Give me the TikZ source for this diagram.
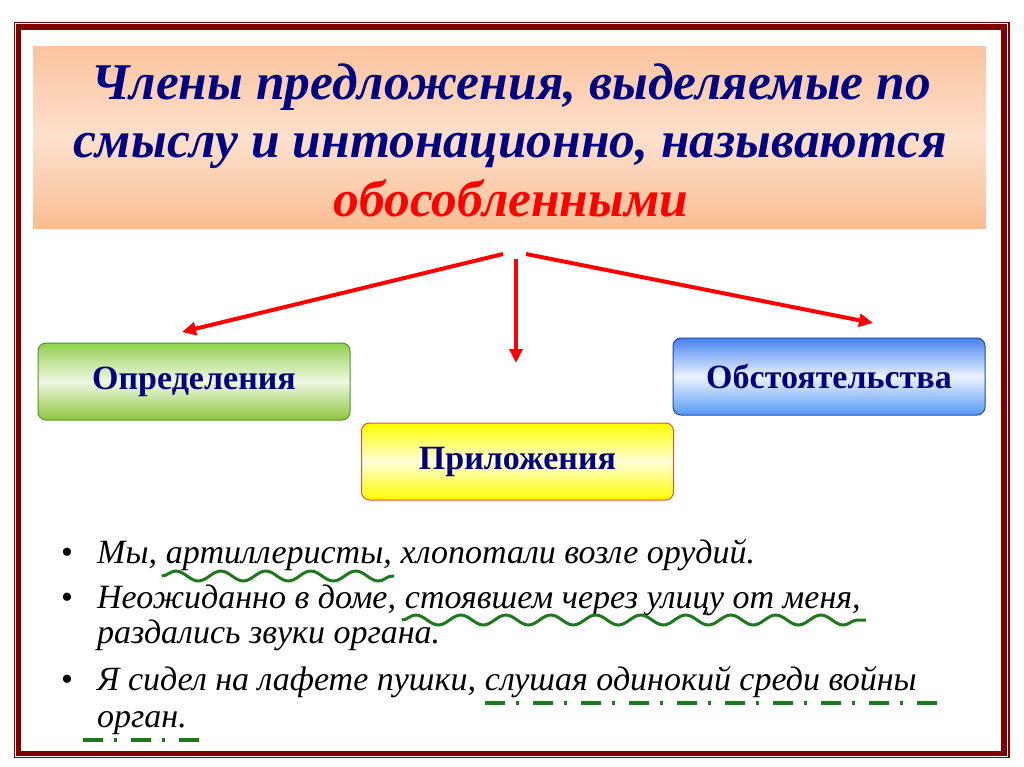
\documentclass[tikz,border=0pt]{standalone}
\usepackage{fontspec}
\setmainfont{Liberation Serif}
\usetikzlibrary{arrows.meta,decorations.pathmorphing}
\definecolor{framered}{RGB}{128,0,0}
\definecolor{navy}{RGB}{0,0,128}
\definecolor{peachtop}{RGB}{251,196,160}
\definecolor{peachmid}{RGB}{253,224,204}
\definecolor{peachbot}{RGB}{250,189,146}
\definecolor{grtop}{RGB}{146,208,80}
\definecolor{grmid}{RGB}{240,248,226}
\definecolor{grbot}{RGB}{140,198,63}
\definecolor{grline}{RGB}{80,150,40}
\definecolor{bltop}{RGB}{70,130,240}
\definecolor{blmid}{RGB}{236,243,255}
\definecolor{blbot}{RGB}{85,152,246}
\definecolor{blline}{RGB}{30,70,170}
\definecolor{yetop}{RGB}{255,255,0}
\definecolor{yemid}{RGB}{255,255,215}
\definecolor{yebot}{RGB}{255,250,0}
\definecolor{yeline}{RGB}{232,80,50}
\definecolor{ulgreen}{RGB}{30,120,30}
\tikzset{
  arrowline/.style={draw=red, line width=4pt, -{Triangle[length=14pt,width=13pt]}},
  catbox/.style={rounded corners=8pt, minimum width=312pt, minimum height=77pt,
    line width=1pt, inner sep=0pt, text=navy, font=\fontsize{34}{40}\selectfont\bfseries},
  titletext/.style={font=\fontsize{51.5}{58}\selectfont\bfseries\itshape, text=navy,
    inner sep=0pt, anchor=base},
  bodytext/.style={font=\fontsize{34}{40}\selectfont\itshape, inner sep=0pt, anchor=base west},
  bulletmark/.style={font=\fontsize{34}{40}\selectfont, inner sep=0pt, anchor=base},
  wavy/.style={draw=ulgreen, line width=3pt, decorate,
    decoration={snake, segment length=45pt, amplitude=5pt}},
  dashdot/.style={draw=ulgreen, line width=3.5pt, dash pattern=on 20pt off 11pt on 3pt off 14pt},
}
\begin{document}
\begin{tikzpicture}[x=1pt,y=-1pt]
\useasboundingbox (0,0) rectangle (1024,767);
\fill[white] (0,0) rectangle (1024,767);
% frame
\draw[framered, line width=5.5pt] (18.5,27) rectangle (1004,753.5);
\draw[framered, line width=1.3pt] (14.5,22.5) rectangle (1009,757.5);
% title box
\node[minimum width=953pt, minimum height=182pt, inner sep=0pt,
  top color=peachtop, bottom color=peachbot, middle color=peachmid] (title) at (509.5,138) {};
\node[titletext] (t1) at (511,100) {Члены предложения, выделяемые по};
\node[titletext] (t2) at (510,158) {смыслу и интонационно, называются};
\node[titletext, text=red] (t3) at (511,217) {обособленными};
% category boxes
\node[catbox, draw=grline, top color=grtop, bottom color=grbot, middle color=grmid] (opr) at (194,381.5) {Определения};
\node[catbox, draw=blline, top color=bltop, bottom color=blbot, middle color=blmid] (obs) at (829,376.5) {Обстоятельства};
\node[catbox, draw=yeline, top color=yetop, bottom color=yebot, middle color=yemid] (pri) at (517.5,461.5) {Приложения};
% arrows
\coordinate (sL) at (503,254);
\coordinate (sM) at (516,259);
\coordinate (sR) at (526,254);
\coordinate (eL) at (182,332);
\coordinate (eM) at (516,363);
\coordinate (eR) at (873,323);
\draw[arrowline] (sL) -- (eL);
\draw[arrowline] (sM) -- (eM);
\draw[arrowline] (sR) -- (eR);
% bullets
\node[bulletmark] (b1) at (67,563) {•};
\node[bulletmark] (b2) at (67,608) {•};
\node[bulletmark] (b3) at (67,690) {•};
\node[bodytext] (l1a) at (97,563) {Мы,\ \null};
\node[bodytext] (l1b) at (l1a.base east) {артиллеристы,};
\node[bodytext] (l1c) at (l1b.base east) {\null\ хлопотали возле орудий.};
\node[bodytext] (l2a) at (97,608) {Неожиданно в доме,\ \null};
\node[bodytext] (l2b) at (l2a.base east) {стоявшем через улицу от меня,};
\node[bodytext] (l3) at (97,643) {раздались звуки органа.};
\node[bodytext] (l4a) at (97,690) {Я сидел на лафете пушки,\ \null};
\node[bodytext] (l4b) at (l4a.base east) {слушая одинокий среди войны};
\node[bodytext] (l5) at (97,727) {орган.};
% underlines
\draw[wavy] ([xshift=-4pt,yshift=-13pt]l1b.base west) -- ([xshift=2pt,yshift=-13pt]l1b.base east);
\draw[wavy] ([xshift=-3pt,yshift=-12pt]l2b.base west) -- ([xshift=5pt,yshift=-12pt]l2b.base east);
\draw[dashdot] ([yshift=-13pt]l4b.base west) -- ([xshift=24pt,yshift=-13pt]l4b.base east);
\draw[dashdot] ([xshift=-14pt,yshift=-13pt]l5.base west) -- ([xshift=17pt,yshift=-13pt]l5.base east);
\end{tikzpicture}
\end{document}
